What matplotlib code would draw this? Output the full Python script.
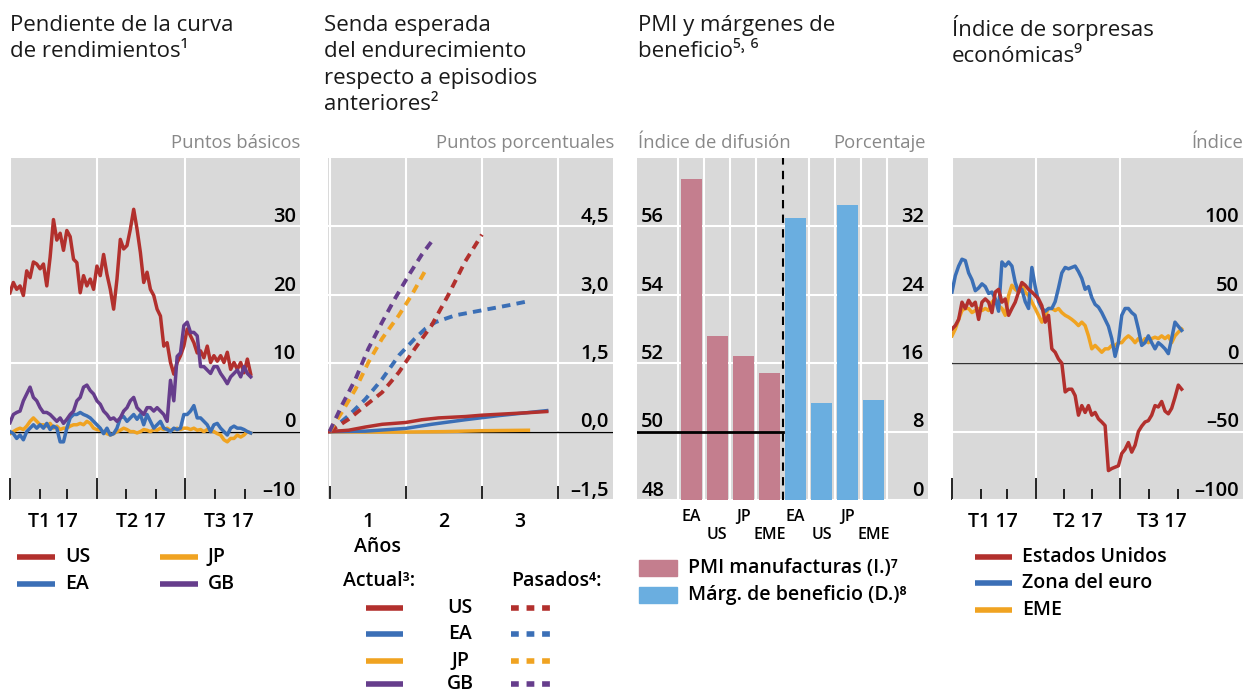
import numpy as np
import pandas as pd
import matplotlib
matplotlib.use("Agg")
import matplotlib.pyplot as plt
import matplotlib.transforms as mtransforms
from matplotlib.lines import Line2D
from matplotlib.patches import Rectangle

plt.rcParams['font.family'] = ['Open Sans', 'Noto Sans', 'DejaVu Sans']

W, H = 1244, 692

# ---------------- data ----------------
# panel 1: yield curve slope (bp), Jan 1 .. Sep 7 2017
slope_us = [20.3, 21.8, 20.8, 21.3, 19.9, 23.5, 22.5, 24.8, 24.5, 23.8,
            24.5, 21.3, 25.5, 31.0, 28.0, 29.0, 26.5, 29.4, 28.5, 25.2,
            24.7, 20.3, 22.8, 21.3, 22.3, 20.8, 24.2, 22.8, 25.9, 23.0,
            20.8, 17.9, 22.3, 28.1, 26.7, 27.2, 29.6, 32.5, 29.6, 26.2,
            21.8, 23.3, 20.8, 19.9, 17.9, 16.9, 12.5, 13.0, 10.1, 8.4,
            10.1, 11.1, 12.5, 15.0, 14.0, 13.0, 11.5, 11.8, 10.8, 12.5,
            10.1, 11.1, 10.3, 11.1, 10.1, 11.6, 9.1, 10.1, 9.1, 10.1,
            8.6, 10.6, 8.4]
slope_gb = [1.3, 2.5, 2.8, 3.0, 4.5, 5.5, 6.5, 5.0, 4.5, 3.5,
            2.8, 2.8, 2.5, 2.0, 1.5, 2.0, 1.2, 1.8, 2.5, 3.0,
            4.5, 5.0, 6.5, 6.8, 6.0, 5.5, 4.5, 4.0, 3.0, 2.5,
            1.8, 2.0, 1.5, 2.0, 3.0, 3.5, 4.5, 5.0, 3.5, 3.0,
            2.5, 3.5, 3.5, 3.0, 3.5, 3.0, 2.5, 1.5, 7.5, 4.5,
            11.0, 11.5, 15.5, 16.0, 14.5, 14.5, 14.0, 9.5, 9.5, 9.0,
            8.5, 9.5, 9.5, 8.5, 7.8, 7.0, 8.0, 8.5, 9.0, 8.0,
            9.5, 8.5, 8.0]
slope_ea = [0.0, -0.3, -1.0, -0.5, -1.2, 0.0, 0.5, 1.0, 0.5, 1.0,
            0.5, 1.2, 0.3, 0.8, 0.5, -1.5, -1.5, 0.5, 2.0, 2.5,
            2.5, 2.8, 2.5, 2.3, 2.0, 1.5, 1.0, 0.5, -0.3, 0.5,
            -0.5, -0.3, 0.5, 2.0, 2.2, 1.5, 2.0, 2.5, 1.8, 2.5,
            1.0, 2.5, 1.5, 0.5, 1.0, 1.5, 0.5, 0.3, 0.0, 0.5,
            0.3, 0.5, 2.5, 2.5, 3.0, 3.8, 2.0, 2.0, 1.5, 1.0,
            0.0, 1.0, 1.2, 0.5, 0.0, -0.5, 0.5, 0.8, 0.5, 0.5,
            0.3, 0.0, -0.2]
slope_jp = [-0.3, 0.0, 0.3, 0.5, 0.3, 0.8, 1.5, 2.0, 1.5, 1.0,
            1.0, 0.8, 1.2, 0.5, 0.8, 0.3, 0.5, 0.5, 0.8, 1.0,
            1.0, 1.2, 1.0, 1.5, 1.2, 0.5, 0.3, 0.2, 0.0, -0.3,
            -0.5, -0.3, 0.0, 0.2, 0.5, 0.3, 0.0, 0.0, -0.2, 0.0,
            0.3, 0.2, 0.0, 0.3, 0.2, 0.5, 0.3, 0.5, 0.2, 0.3,
            0.5, 0.3, 0.5, 0.5, 0.3, 0.5, 0.2, 0.3, 0.0, 0.3,
            0.2, 0.0, -0.3, -0.5, -1.2, -1.5, -1.0, -1.0, -0.5, -0.8,
            -0.5, 0.0, -0.2]
dates1 = pd.date_range('2017-01-01', '2017-09-07', periods=len(slope_us))

# panel 2: expected tightening path (pp) vs years
act_us_x = [0, 0.25, 0.47, 0.69, 1.0, 1.21, 1.43, 1.78, 2.0, 2.22, 2.44, 2.66, 2.85]
act_us_y = [0, 0.03, 0.10, 0.16, 0.20, 0.26, 0.30, 0.33, 0.36, 0.38, 0.40, 0.42, 0.44]
act_ea_x = [0, 0.47, 1.0, 1.34, 1.78, 2.22, 2.85]
act_ea_y = [0, 0.01, 0.07, 0.16, 0.26, 0.35, 0.46]
act_jp_x = [0, 0.5, 1.0, 1.5, 2.0, 2.61]
act_jp_y = [0, -0.01, -0.01, 0.0, 0.02, 0.03]
past_us_x = [0, 0.25, 0.47, 0.69, 0.91, 1.12, 1.34, 1.56, 1.78, 2.0]
past_us_y = [0, 0.27, 0.57, 0.86, 1.30, 1.82, 2.33, 3.00, 3.73, 4.32]
past_ea_x = [0, 0.25, 0.47, 0.69, 0.91, 1.12, 1.26, 1.39, 1.65, 2.0, 2.35, 2.61]
past_ea_y = [0, 0.35, 0.71, 1.15, 1.67, 2.04, 2.26, 2.40, 2.55, 2.66, 2.77, 2.86]
past_jp_x = [0, 0.16, 0.34, 0.51, 0.69, 0.91, 1.08, 1.26]
past_jp_y = [0, 0.42, 0.93, 1.52, 2.04, 2.55, 3.00, 3.54]
past_gb_x = [0, 0.16, 0.34, 0.51, 0.69, 0.86, 1.04, 1.21, 1.34]
past_gb_y = [0, 0.57, 1.15, 1.82, 2.40, 2.92, 3.43, 3.88, 4.17]

# panel 3: PMI and profit margins
bar_labels = ['EA', 'US', 'JP', 'EME']
pmi_vals = [57.4, 52.8, 52.2, 51.7]
margin_vals = [33.0, 11.3, 34.5, 11.7]

# panel 4: economic surprise index
surp_us = [25, 27.5, 32, 44.6, 40, 46, 42, 44.6, 32, 44.6,
           47, 44.6, 37, 52, 54, 44.6, 47, 35, 40, 44.6,
           52, 59, 57, 54, 52, 49.5, 47, 42, 30, 35,
           10.5, 8, 3, 0, -21, -19, -19, -23.7, -38, -31,
           -36, -31, -38, -36, -40.7, -43, -45.6, -78.5, -77, -76,
           -75, -66, -63, -58, -65, -60, -50, -46, -43, -42,
           -38, -31, -32, -28, -35, -37, -33, -25, -16, -19]
surp_ea = [52, 64, 71, 76, 75, 66, 61, 53, 55, 58,
           56, 51, 52, 47, 38, 74, 71, 74, 71, 59,
           52, 54, 45, 40, 70, 56, 45, 40, 38, 40,
           40, 45, 55, 66, 70, 69, 70, 71, 67, 62,
           54, 56, 48, 43, 41, 37, 32, 27, 18, 5,
           15, 35, 40, 40, 37, 35, 25, 13, 15, 20,
           15, 10.5, 15, 13, 10.5, 7, 18, 30, 27, 24]
surp_eme = [20, 25, 32, 38.5, 40, 40, 37, 38.5, 40, 38.5,
            40, 38.5, 44.6, 47, 42, 40, 35, 49.5, 57, 54,
            52, 57, 52, 49.5, 44.6, 40, 35, 30, 35, 40,
            40, 38.5, 40, 37, 35, 33.7, 32, 30, 27.5, 30,
            27.5, 20, 10.5, 13, 10.5, 8, 10.5, 10.5, 13, 13,
            15, 15, 18, 20, 18, 15, 18, 15, 18, 15,
            18, 19, 18, 20, 18, 20, 15, 20, 22.7, 25]
dates4 = pd.date_range('2017-01-01', '2017-09-05', periods=len(surp_us))

RED, BLUE, ORANGE, PURPLE = '#b2302d', '#3b6fb6', '#f0a321', '#663d8c'
PINK, LBLUE = '#c47e8e', '#6aaee0'
BG = '#d9d9d9'
GREYTXT = '#888888'


def rect(left, top, right, bottom):
    return [left / W, 1 - bottom / H, (right - left) / W, (bottom - top) / H]


def ftext(x, y, s, **kw):
    fig.text(x / W, 1 - y / H, s, **kw)


def fline(x0, x1, y, color, ls='-'):
    fig.add_artist(Line2D([x0 / W, x1 / W], [1 - y / H, 1 - y / H], color=color,
                          lw=4, ls=ls, solid_capstyle='butt', dash_capstyle='butt',
                          transform=fig.transFigure))


def style(ax):
    ax.set_facecolor(BG)
    for s in ax.spines.values():
        s.set_visible(False)
    ax.grid(True, color='white', lw=1.5)
    ax.set_axisbelow(True)
    ax.tick_params(axis='y', length=0, labelleft=False, labelright=False)
    ax.tick_params(axis='x', which='both', direction='in', color='black',
                   labelbottom=False, width=1.2)


def inside_labels(ax, vals, labels, side='right'):
    trans = mtransforms.blended_transform_factory(ax.transAxes, ax.transData)
    x, dx, ha = (1, -3, 'right') if side == 'right' else (0, 3, 'left')
    for v, lab in zip(vals, labels):
        ax.annotate(lab, xy=(x, v), xycoords=trans, xytext=(dx, 3),
                    textcoords='offset points', ha=ha, va='baseline',
                    fontsize=14.5, fontweight='semibold', color='black')


def date_axis(ax, start, end):
    ax.set_xlim(pd.Timestamp(start), pd.Timestamp(end))
    majors = pd.to_datetime(['2017-01-01', '2017-04-01', '2017-07-01'])
    minors = pd.to_datetime(['2017-02-01', '2017-03-01', '2017-05-01',
                             '2017-06-01', '2017-08-01', '2017-09-01'])
    ax.set_xticks(majors)
    ax.set_xticks(minors, minor=True)
    ax.tick_params(axis='x', which='major', length=16)
    ax.tick_params(axis='x', which='minor', length=8)
    ax.grid(False, axis='x', which='minor')
    trans = mtransforms.blended_transform_factory(ax.transData, ax.transAxes)
    for d, lab in zip(['2017-02-14', '2017-05-16', '2017-08-15'],
                      ['T1 17', 'T2 17', 'T3 17']):
        ax.text(pd.Timestamp(d), -0.065, lab, transform=trans, ha='center',
                va='center', fontsize=14, fontweight='semibold')


fig = plt.figure(figsize=(W / 100, H / 100), dpi=100)

# ---------------- panel 1 ----------------
ax1 = fig.add_axes(rect(10, 158, 300, 500))
style(ax1)
ax1.set_ylim(-10, 40)
ax1.set_yticks([-10, 0, 10, 20, 30])
date_axis(ax1, '2017-01-01', '2017-10-28')
ax1.axhline(0, color='black', lw=1)
ax1.plot(dates1, slope_jp, color=ORANGE, lw=2.5)
ax1.plot(dates1, slope_ea, color=BLUE, lw=2.5)
ax1.plot(dates1, slope_us, color=RED, lw=2.5)
ax1.plot(dates1, slope_gb, color=PURPLE, lw=2.5)
inside_labels(ax1, [-10, 0, 10, 20, 30], ['–10', '0', '10', '20', '30'])

# ---------------- panel 2 ----------------
ax2 = fig.add_axes(rect(328, 158, 613, 500))
style(ax2)
ax2.set_ylim(-1.5, 6.0)
ax2.set_yticks([-1.5, 0, 1.5, 3.0, 4.5])
ax2.set_xlim(-0.02, 3.72)
ax2.set_xticks([0, 1, 2, 3])
ax2.tick_params(axis='x', which='major', length=10)
ax2.axhline(0, color='black', lw=1)
dash = (0, (2.2, 1.6))
ax2.plot(act_jp_x, act_jp_y, color=ORANGE, lw=2.5)
ax2.plot(act_ea_x, act_ea_y, color=BLUE, lw=2.5)
ax2.plot(act_us_x, act_us_y, color=RED, lw=2.5)
ax2.plot(past_ea_x, past_ea_y, color=BLUE, lw=2.8, ls=dash)
ax2.plot(past_us_x, past_us_y, color=RED, lw=2.8, ls=dash)
ax2.plot(past_jp_x, past_jp_y, color=ORANGE, lw=2.8, ls=dash)
ax2.plot(past_gb_x, past_gb_y, color=PURPLE, lw=2.8, ls=dash)
inside_labels(ax2, [-1.5, 0, 1.5, 3.0, 4.5], ['–1,5', '0,0', '1,5', '3,0', '4,5'])
trans2 = mtransforms.blended_transform_factory(ax2.transData, ax2.transAxes)
for xv, lab in zip([0.5, 1.5, 2.5], ['1', '2', '3']):
    ax2.text(xv, -0.065, lab, transform=trans2, ha='center', va='center',
             fontsize=14, fontweight='semibold')

# ---------------- panel 3 ----------------
ax3 = fig.add_axes(rect(637, 158, 928, 500))
style(ax3)
ax3.set_ylim(48, 58)
ax3.set_yticks([48, 50, 52, 54, 56])
ax3.set_xlim(-2.08, 9.08)
ax3.set_xticks([-0.5, 0.5, 1.5, 2.5, 4.5, 5.5, 6.5, 7.5])
ax3.tick_params(axis='x', which='both', length=0)
ax3.bar(np.arange(4), np.array(pmi_vals) - 48, bottom=48, width=0.8, color=PINK)
ax3.plot([-2.08, 3.5], [50, 50], color='black', lw=2)
ax3.axvline(3.5, color='black', lw=1.5, ls=(0, (4, 3)))
ax3b = ax3.twinx()
ax3b.set_ylim(0, 40)
for s in ax3b.spines.values():
    s.set_visible(False)
ax3b.tick_params(axis='y', length=0, labelright=False)
ax3b.bar(np.arange(4, 8), margin_vals, width=0.8, color=LBLUE)
inside_labels(ax3, [48, 50, 52, 54, 56], ['48', '50', '52', '54', '56'], side='left')
inside_labels(ax3b, [0, 8, 16, 24, 32], ['0', '8', '16', '24', '32'])
trans3 = mtransforms.blended_transform_factory(ax3.transData, ax3.transAxes)
for i, lab in enumerate(bar_labels * 2):
    yv = -0.05 if i % 2 == 0 else -0.103
    ax3.text(i, yv, lab, transform=trans3, ha='center', va='center',
             fontsize=11.5, fontweight='semibold')

# ---------------- panel 4 ----------------
ax4 = fig.add_axes(rect(952, 158, 1243, 500))
style(ax4)
ax4.set_ylim(-100, 150)
ax4.set_yticks([-100, -50, 0, 50, 100])
date_axis(ax4, '2017-01-01', '2017-11-10')
ax4.axhline(0, color='#333333', lw=1)
ax4.plot(dates4, surp_eme, color=ORANGE, lw=2.5)
ax4.plot(dates4, surp_ea, color=BLUE, lw=2.5)
ax4.plot(dates4, surp_us, color=RED, lw=2.5)
inside_labels(ax4, [-100, -50, 0, 50, 100], ['–100', '–50', '0', '50', '100'])

# ---------------- titles ----------------
tkw = dict(fontsize=16, va='top', ha='left', color='#1a1a1a', linespacing=1.33)
ftext(10, 15, 'Pendiente de la curva\nde rendimientos¹', **tkw)
ftext(324, 15, 'Senda esperada\ndel endurecimiento\nrespecto a episodios\nanteriores²', **tkw)
ftext(638, 15, 'PMI y márgenes de\nbeneficio⁵˒ ⁶', **tkw)
ftext(952, 15, 'Índice de sorpresas\neconómicas⁹', **tkw)

ukw = dict(fontsize=13.3, va='center', color=GREYTXT)
ftext(300, 143, 'Puntos básicos', ha='right', **ukw)
ftext(614, 143, 'Puntos porcentuales', ha='right', **ukw)
ftext(638, 143, 'Índice de difusión', ha='left', **ukw)
ftext(926, 143, 'Porcentaje', ha='right', **ukw)
ftext(1243, 143, 'Índice', ha='right', **ukw)

# ---------------- legends ----------------
lkw = dict(fontsize=14, fontweight='semibold', va='center')
for (x0, y, col, lab) in [(17, 557, RED, 'US'), (17, 584, BLUE, 'EA'),
                          (160, 557, ORANGE, 'JP'), (160, 584, PURPLE, 'GB')]:
    fline(x0, x0 + 38, y, col)
    ftext(x0 + 48, y, lab, ha='left', **lkw)

ftext(377, 547, 'Años', ha='center', **lkw)
ftext(343, 581, 'Actual³:', ha='left', **lkw)
ftext(511, 581, 'Pasados⁴:', ha='left', **lkw)
for y, col, lab in [(608, RED, 'US'), (634, BLUE, 'EA'), (661, ORANGE, 'JP'),
                    (684, PURPLE, 'GB')]:
    fline(366, 403, y, col)
    fline(511, 550, y, col, ls=(0, (1.4, 1.4)))
    ftext(460, y, lab, ha='center', **lkw)

for y, col, lab in [(568, PINK, 'PMI manufacturas (I.)⁷'),
                    (595, LBLUE, 'Márg. de beneficio (D.)⁸')]:
    fig.add_artist(Rectangle((639 / W, 1 - (y + 8) / H), 38 / W, 16 / H,
                             color=col, transform=fig.transFigure))
    ftext(688, y, lab, ha='left', **lkw)

for y, col, lab in [(557, RED, 'Estados Unidos'), (583, BLUE, 'Zona del euro'),
                    (610, ORANGE, 'EME')]:
    fline(975, 1012, y, col)
    ftext(1022, y, lab, ha='left', **lkw)

fig.savefig('out.png', dpi=100)
